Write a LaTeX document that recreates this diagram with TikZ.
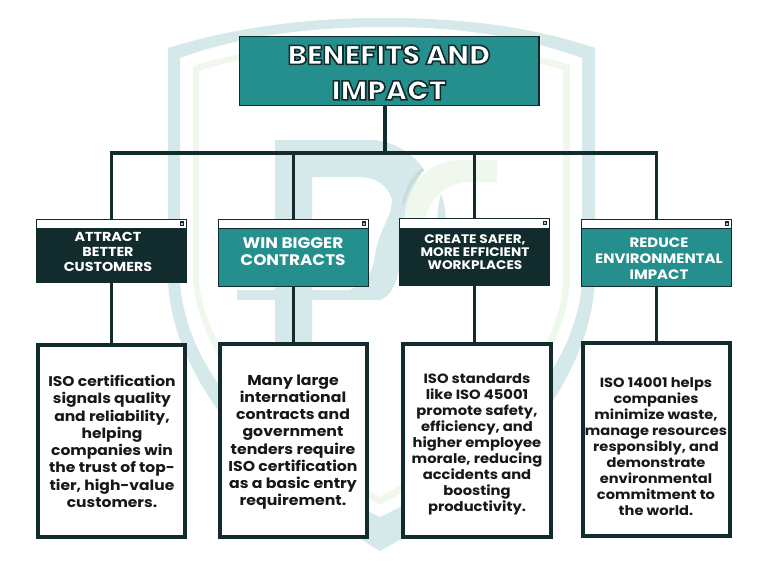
\documentclass[tikz,border=0pt]{standalone}
\usepackage{fontspec}
\setmainfont{Poppins}[FakeStretch=1.1]
\newfontfamily\titlefont{Poppins ExtraBold}[FakeStretch=1.06]
\usetikzlibrary{calc}
\definecolor{ink}{HTML}{122B2C}
\definecolor{tealbox}{HTML}{248F8C}
\definecolor{wmteal}{HTML}{D6E9EA}
\definecolor{wmgreen}{HTML}{F0F7EC}
\definecolor{wmgrey}{HTML}{C9D9D8}
\definecolor{bodyink}{HTML}{15191A}
\newcommand{\outlined}[1]{\special{pdf:code q 2 Tr 1.6 w 0.07 0.17 0.17 RG 1 1 1 rg}#1\special{pdf:code Q}}
\tikzset{
  x=1pt,y=-1pt,
  link/.style={draw=ink,line width=3.2pt},
  cardbox/.style={draw=ink,line width=1.2pt,minimum width=149.8pt,inner sep=0pt,anchor=north west},
  detailbox/.style={draw=ink,line width=3.6pt,fill=white,inner sep=0pt,anchor=north west},
  cardtitle/.style={text=white,align=center,font=\bfseries,inner sep=0pt},
  detailtext/.style={text=bodyink,align=center,font=\bfseries,inner sep=0pt},
  bar/.style={fill=white,draw=ink,line width=1pt},
}
\begin{document}
\begin{tikzpicture}
\useasboundingbox (0,0) rectangle (768,576);
% watermark shield
\fill[wmteal,even odd rule]
  (168,48) .. controls (240,26) and (310,18) .. (385,18) .. controls (460,18) and (530,26) .. (595,48)
  -- (595,280) .. controls (590,380) and (510,480) .. (380,551)
  .. controls (260,480) and (172,380) .. (168,280) -- cycle
  (180,58) -- (180,280) .. controls (184,370) and (270,465) .. (380,517)
  .. controls (490,465) and (578,370) .. (582,280) -- (582,58)
  .. controls (520,36) and (460,27) .. (385,27) .. controls (310,27) and (240,36) .. (180,58) -- cycle;
\fill[wmgreen,even odd rule]
  (193,66) .. controls (250,48) and (320,40) .. (385,40) .. controls (450,40) and (520,48) .. (570,65)
  -- (570,280) .. controls (566,370) and (480,450) .. (380,505)
  .. controls (290,450) and (200,370) .. (193,280) -- cycle
  (199,71) -- (199,280) .. controls (206,365) and (295,445) .. (380,497)
  .. controls (475,445) and (560,365) .. (563,280) -- (563,70)
  .. controls (510,54) and (450,46) .. (385,46) .. controls (320,46) and (250,54) .. (199,71) -- cycle;
% letter P
\fill[wmteal,even odd rule]
  (275,140) -- (375,140) .. controls (395,142) and (415,155) .. (424,170)
  .. controls (412,185) and (402,215) .. (402,240) .. controls (402,270) and (395,295) .. (380,300)
  -- (312,300) -- (312,345) -- (275,345) -- (275,300) -- (237,300) -- (237,290) -- (275,290) -- cycle
  (312,177) -- (312,290) -- (350,290) .. controls (370,280) and (373,270) .. (376,250)
  .. controls (380,230) and (392,215) .. (392,200) .. controls (388,185) and (375,177) .. (360,177) -- cycle;
% letter C
\fill[wmgreen]
  (404,225) .. controls (404,190) and (425,160) .. (460,160) -- (497,160) -- (497,182) -- (470,182)
  .. controls (445,182) and (425,200) .. (422,235) -- cycle;
\fill[wmgrey] (404,205) .. controls (408,190) and (414,180) .. (424,170) -- (422,168) .. controls (412,176) and (404,190) .. (402,205) -- cycle;
\fill[wmteal] (437,225) .. controls (437,212) and (439,202) .. (441,194) .. controls (445,204) and (446,214) .. (446,225) -- cycle;

% nodes
\node[draw=ink,line width=1.4pt,fill=tealbox,minimum width=299.2pt,minimum height=68.8pt,inner sep=0pt,anchor=north west] (root) at (239,36) {};
\node[inner sep=0pt,align=center,font=\titlefont\fontsize{27}{35.5}\selectfont] (roottext) at (389,72.5)
  {\outlined{BENEFITS AND}\\\outlined{IMPACT}};

\coordinate (bus) at (385,153);

\node[cardbox,fill=ink,minimum height=63.3pt] (c1) at (36,218.5) {};
\node[cardbox,fill=tealbox,minimum height=67.3pt] (c2) at (218,218.5) {};
\node[cardbox,fill=ink,minimum height=66.8pt] (c3) at (399,218) {};
\node[cardbox,fill=tealbox,minimum height=67.3pt] (c4) at (581,218.5) {};

\foreach \n in {c1,c2,c3,c4}{
  \node[bar,anchor=north west,minimum width=150pt,minimum height=9.5pt,inner sep=0pt] (\n bar) at (\n.north west) {};
  \node[fill=ink,minimum size=4.5pt,inner sep=0pt] (\n box) at ($(\n.north east)+(-5,5)$) {};
  \fill[white!70!ink] ($(\n box.center)+(-1,-1)$) rectangle ($(\n box.center)+(1,1)$);
}

\node[cardtitle,font=\fontsize{13}{15}\selectfont\bfseries] (t1) at (108,252) {ATTRACT\\BETTER\\CUSTOMERS};
\node[cardtitle,font=\fontsize{15.3}{17}\selectfont\bfseries] (t2) at (293,251.5) {WIN BIGGER\\CONTRACTS};
\node[cardtitle,font=\fontsize{12.4}{13.2}\selectfont\bfseries] (t3) at (475,252) {CREATE SAFER,\\MORE EFFICIENT\\WORKPLACES};
\node[cardtitle,font=\fontsize{13.6}{15.8}\selectfont\bfseries] (t4) at (659,258.5) {REDUCE\\ENVIRONMENTAL\\IMPACT};

\node[detailbox,minimum width=147.4pt,minimum height=192.4pt] (d1) at (36,343) {};
\node[detailbox,minimum width=147pt,minimum height=193.4pt] (d2) at (218,342) {};
\node[detailbox,minimum width=148pt,minimum height=193.4pt] (d3) at (401,342) {};
\node[detailbox,minimum width=147.4pt,minimum height=193.4pt] (d4) at (581,341) {};

\node[detailtext,font=\fontsize{14.1}{17.25}\selectfont\bfseries] (b1) at (112,441.5) {ISO certification\\signals quality\\and reliability,\\helping\\companies win\\the trust of top-\\tier, high-value\\customers.};
\node[detailtext,font=\fontsize{14.3}{17.25}\selectfont\bfseries] (b2) at (293,442) {Many large\\international\\contracts and\\government\\tenders require\\ISO certification\\as a basic entry\\requirement.};
\node[detailtext,font=\fontsize{13.4}{16}\selectfont\bfseries] (b3) at (477,444.5) {ISO standards\\like ISO 45001\\promote safety,\\efficiency, and\\higher employee\\morale, reducing\\accidents and\\boosting\\productivity.};
\node[detailtext,font=\fontsize{13.3}{16.1}\selectfont\bfseries] (b4) at (656,446.5) {ISO 14001 helps\\companies\\minimize waste,\\manage resources\\responsibly, and\\demonstrate\\environmental\\commitment to\\the world.};

% connectors
\draw[link,line width=4pt] (root.south -| bus) -- (bus);
\draw[link,line cap=rect] (c1.north |- bus) -- (c4.north |- bus);
\foreach \n in {c1,c2,c3,c4}{
  \draw[link] (\n.north |- bus) -- (\n.north);
}
\draw[link] (c1.south) -- (c1.south |- d1.north);
\draw[link] (c2.south) -- (c2.south |- d2.north);
\draw[link] (c3.south) -- (c3.south |- d3.north);
\draw[link] (c4.south) -- (c4.south |- d4.north);
\end{tikzpicture}
\end{document}
